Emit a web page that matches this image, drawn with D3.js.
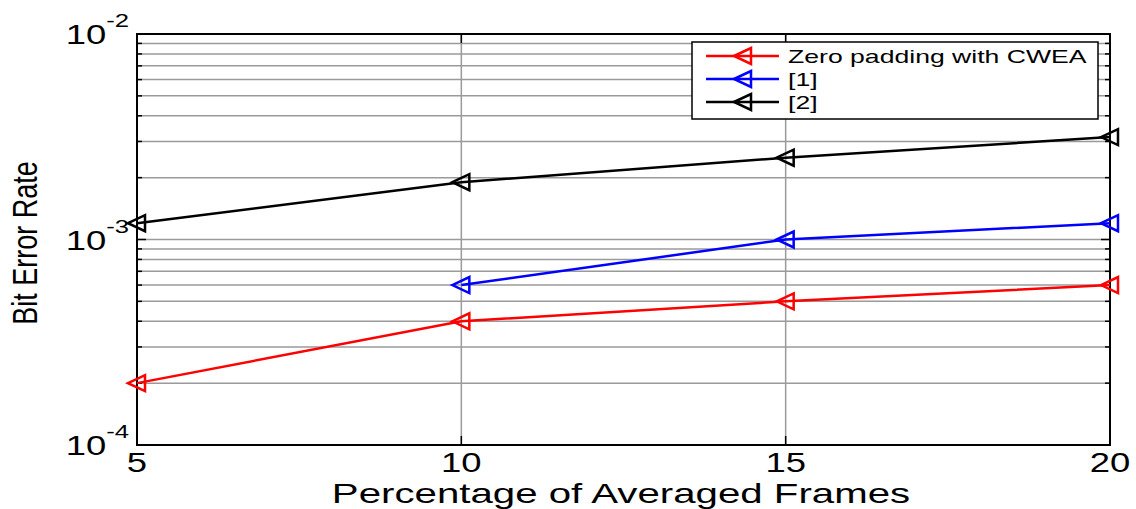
<!DOCTYPE html>
<html>
<head>
<meta charset="utf-8">
<script src="https://cdn.jsdelivr.net/npm/d3@7"></script>
<style>
body { margin: 0; background: #fff; }
text { font-family: "Liberation Sans", Arial, sans-serif; fill: #000; }
</style>
</head>
<body>
<div id="canvas"></div>
<script>
var width = 1136,
	height = 509;

// values
var frames = [5, 10, 15, 20];
var zeroPadding = [2e-4, 4e-4, 5e-4, 6e-4];
var ref1Frames = [10, 15, 20];
var ref1 = [6e-4, 1e-3, 1.2e-3];
var ref2 = [1.2e-3, 1.9e-3, 2.5e-3, 3.15e-3];
var seriesNames = ["Zero padding with CWEA", "[1]", "[2]"];
var yTickExp = [-4, -3, -2];
var xTicks = [5, 10, 15, 20];

var margin = {left: 137, right: 26, top: 34, bottom: 64};
var sx = 1.35; // the original picture is stretched sideways

var svg = d3.select("#canvas").append("svg")
	.attr("width", width)
	.attr("height", height)

var x = d3.scaleLinear().domain([5, 20]).range([margin.left, width - margin.right]);
var y = d3.scaleLog().domain([1e-4, 1e-2]).range([height - margin.bottom, margin.top]);

var gridY = [];
[1e-4, 1e-3].forEach(function(base){
	for (var k = 1; k <= 9; k++) gridY.push(base * k);
});
gridY.push(1e-2);

var grid = svg.append("g").attr("stroke", "#9a9a9a").attr("stroke-width", 1.5);
grid.selectAll(".gy").data(gridY).enter().append("line")
	.attr("x1", x(5)).attr("x2", x(20))
	.attr("y1", function(d){ return y(d); })
	.attr("y2", function(d){ return y(d); })
grid.selectAll(".gx").data(xTicks.slice(1, 3)).enter().append("line")
	.attr("x1", function(d){ return x(d); })
	.attr("x2", function(d){ return x(d); })
	.attr("y1", y(1e-4)).attr("y2", y(1e-2))

// tick marks inside the frame
var ticks = svg.append("g").attr("stroke", "#000").attr("stroke-width", 1.5);
gridY.forEach(function(d){
	var len = (Math.abs(Math.log10(d) - Math.round(Math.log10(d))) < 1e-9) ? 9 : 5;
	ticks.append("line").attr("x1", x(5)).attr("x2", x(5) + len).attr("y1", y(d)).attr("y2", y(d));
	ticks.append("line").attr("x1", x(20)).attr("x2", x(20) - len).attr("y1", y(d)).attr("y2", y(d));
});
xTicks.forEach(function(d){
	ticks.append("line").attr("x1", x(d)).attr("x2", x(d)).attr("y1", y(1e-4)).attr("y2", y(1e-4) - 9);
	ticks.append("line").attr("x1", x(d)).attr("x2", x(d)).attr("y1", y(1e-2)).attr("y2", y(1e-2) + 9);
});

svg.append("rect")
	.attr("x", x(5)).attr("y", y(1e-2))
	.attr("width", x(20) - x(5)).attr("height", y(1e-4) - y(1e-2))
	.attr("fill", "none").attr("stroke", "#000").attr("stroke-width", 2)

// y tick labels 10^n
yTickExp.forEach(function(e){
	var g = svg.append("g")
		.attr("transform", "translate(" + (x(5) - 8) + "," + (y(Math.pow(10, e)) + 10) + ") scale(" + sx + ",1)")
	var t = g.append("text").attr("text-anchor", "end").style("font-size", "27px")
	t.append("tspan").text("10")
	t.append("tspan").attr("dy", -17).style("font-size", "19px").text(String(e))
});

// x tick labels
svg.selectAll(".xt").data(xTicks).enter().append("text")
	.attr("transform", function(d){ return "translate(" + x(d) + ",472) scale(" + sx + ",1)"; })
	.attr("text-anchor", "middle")
	.style("font-size", "27px")
	.text(function(d){ return d; })

svg.append("text")
	.attr("transform", "translate(621,503) scale(1.49,1)")
	.attr("text-anchor", "middle")
	.style("font-size", "27px")
	.text("Percentage of Averaged Frames")

svg.append("text")
	.attr("transform", "translate(37,243) scale(1.27,1) rotate(-90)")
	.attr("text-anchor", "middle")
	.style("font-size", "27px")
	.text("Bit Error Rate")

function triangle(cx, cy){
	return "M" + (cx - 9) + "," + cy + "L" + (cx + 8) + "," + (cy - 8) + "L" + (cx + 8) + "," + (cy + 8) + "Z";
}

var series = [
	{name: seriesNames[0], color: "#ff0000", xs: frames, ys: zeroPadding},
	{name: seriesNames[1], color: "#0000ff", xs: ref1Frames, ys: ref1},
	{name: seriesNames[2], color: "#000000", xs: frames, ys: ref2}
];

var line = d3.line()
	.x(function(d){ return x(d[0]); })
	.y(function(d){ return y(d[1]); })

series.forEach(function(s){
	var pts = s.xs.map(function(v, i){ return [v, s.ys[i]]; });
	svg.append("path").attr("d", line(pts))
		.attr("fill", "none").attr("stroke", s.color).attr("stroke-width", 2.5)
	svg.selectAll(null).data(pts).enter().append("path")
		.attr("d", function(d){ return triangle(x(d[0]), y(d[1])); })
		.attr("fill", "none").attr("stroke", s.color).attr("stroke-width", 2.5)
});

// legend
var legend = svg.append("g");
legend.append("rect")
	.attr("x", 692).attr("y", 42).attr("width", 406).attr("height", 77)
	.attr("fill", "#fff").attr("stroke", "#000").attr("stroke-width", 1.5)
series.forEach(function(s, i){
	var ly = 56 + i * 23;
	legend.append("line").attr("x1", 706).attr("x2", 779).attr("y1", ly).attr("y2", ly)
		.attr("stroke", s.color).attr("stroke-width", 2.5)
	legend.append("path").attr("d", triangle(743, ly))
		.attr("fill", "none").attr("stroke", s.color).attr("stroke-width", 2.5)
	legend.append("text")
		.attr("transform", "translate(788," + (ly + 7) + ") scale(1.4,1)")
		.style("font-size", "19px")
		.text(s.name)
});
</script>
</body>
</html>
